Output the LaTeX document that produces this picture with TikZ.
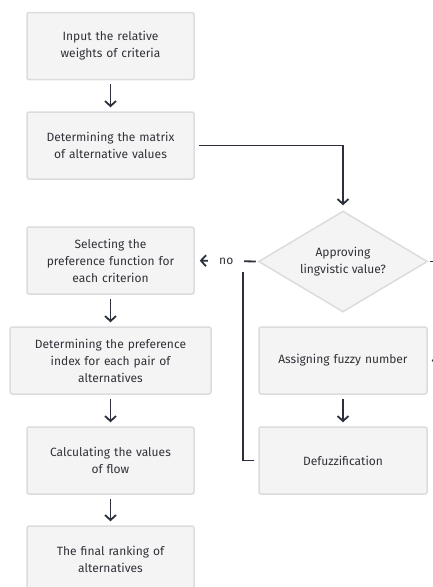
\documentclass[tikz,border=0pt]{standalone}
\usepackage{fontspec}
\setmainfont{Fira Sans}
\usetikzlibrary{arrows.meta,shapes.geometric}
\definecolor{boxfill}{HTML}{F4F4F5}
\definecolor{boxline}{HTML}{DCDCDF}
\definecolor{ink}{HTML}{2C2F3C}
\definecolor{txt}{HTML}{303238}
\tikzset{
  stepbox/.style={draw=boxline, fill=boxfill, line width=1.5pt, rounded corners=2pt,
    minimum width=167pt, minimum height=67pt, text width=150pt, align=center,
    font=\fontsize{12}{17}\selectfont, text=txt, inner sep=0pt},
  decision/.style={diamond, aspect=1.67, draw=boxline, fill=boxfill, line width=1.5pt,
    minimum width=169pt, minimum height=101pt, inner sep=0pt, align=center,
    font=\fontsize{12}{17}\selectfont, text=txt},
  conn/.style={draw=ink, line width=1.8pt, -{Straight Barb[length=5pt,width=11pt,line width=1.8pt]}},
  plain/.style={draw=ink, line width=1.8pt},
  lbl/.style={font=\fontsize{12}{17}\selectfont, text=txt, fill=white, inner xsep=11pt, inner ysep=2pt}
}
\begin{document}
\begin{tikzpicture}[x=1pt,y=-1pt]
\useasboundingbox (0,0) rectangle (432,587);
\node[stepbox] (b1) at (110.5,46) {Input the relative\\weights of criteria};
\node[stepbox] (b2) at (110.5,145.5) {Determining the matrix\\of alternative values};
\node[decision] (dia) at (343,261.5) {Approving\\lingvistic value?};
\node[stepbox] (b3) at (110.5,260.5) {Selecting the\\preference function for\\each criterion};
\node[stepbox, minimum width=201pt, text width=190pt] (b4) at (110.5,360.5) {Determining the preference\\index for each pair of\\alternatives};
\node[stepbox] (b5) at (110.5,460.5) {Calculating the values\\of flow};
\node[stepbox] (b6) at (110.5,559.5) {The final ranking of\\alternatives};
\node[stepbox, minimum width=168pt] (fz) at (343,360.5) {Assigning fuzzy number};
\node[stepbox, minimum width=168pt] (df) at (343,460.5) {Defuzzification};
\coordinate (join) at (243,272);
\coordinate (yesR) at (438,261.5);
\coordinate (yesIn) at (450,360.5);

\draw[conn, shorten <=4pt, shorten >=4pt] (b1) -- (b2);
\draw[conn, shorten <=4pt, shorten >=5pt] (b2.east) -| (dia.north);
\draw[conn, shorten <=2pt, shorten >=5pt] (dia.west) -- node[lbl] {no} (b3.east);
\draw[conn, shorten <=4pt, shorten >=4pt] (b3) -- (b4);
\draw[conn, shorten <=4pt, shorten >=4pt] (b4) -- (b5);
\draw[conn, shorten <=4pt, shorten >=4pt] (b5) -- (b6);
\draw[conn, shorten <=4pt, shorten >=4pt] (fz) -- (df);
\draw[plain, shorten <=4pt] (df.west) -| (join);
\draw[plain, shorten <=2pt] (dia.east) -- (yesR);
\draw[conn, shorten >=4pt] (yesIn) -- (fz.east);
\end{tikzpicture}
\end{document}
